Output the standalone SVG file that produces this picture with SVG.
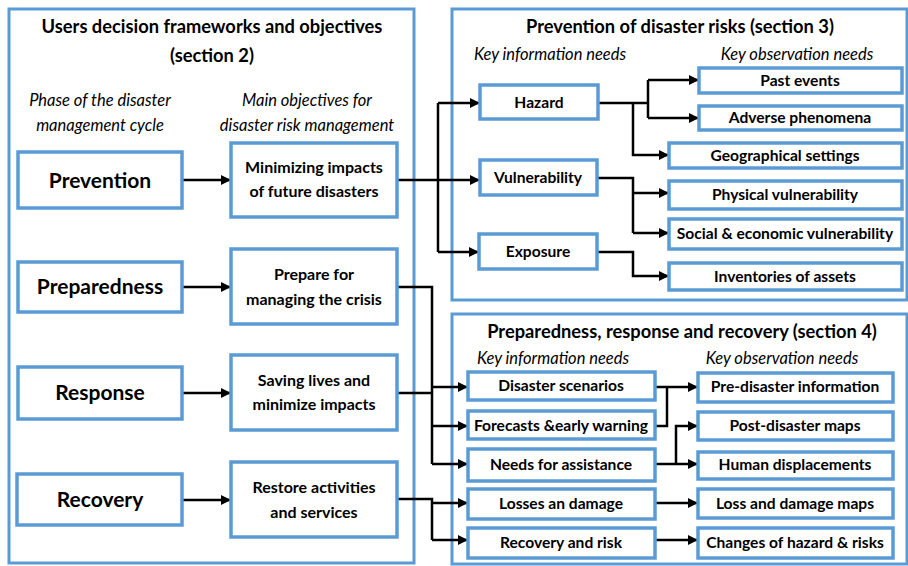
<svg xmlns="http://www.w3.org/2000/svg" width="908" height="566" viewBox="0 0 908 566">
<style>
.frame{fill:none;stroke:#5b9bd5;stroke-width:3}
.box{fill:#fff;stroke:#5b9bd5;stroke-width:3.5}
text{font-family:Lato,"Liberation Sans",sans-serif;fill:#000;text-anchor:middle}
.title{font-size:18.3px;font-weight:bold}
.ital{font-size:16.5px;font-style:italic}
.phase{font-size:21px;font-weight:bold}
.obj{font-size:16px;font-weight:bold}
.item{font-size:15.6px;font-weight:bold}
.con{fill:none;stroke:#000;stroke-width:2.5}
.arr{fill:none;stroke:#000;stroke-width:2.5;marker-end:url(#ah)}
</style>
<defs>
<marker id="ah" viewBox="0 0 10 10" refX="10" refY="5" markerWidth="4" markerHeight="4" markerUnits="strokeWidth" orient="auto">
<path d="M0,0 L10,5 L0,10 z" fill="#000"/>
</marker>
</defs>
<rect width="908" height="566" fill="#fff"/>

<g id="frame-section2">
<rect class="frame" x="9" y="9" width="405" height="554"/>
<text class="title" x="212" y="33">Users decision frameworks and objectives</text>
<text class="title" x="212" y="62">(section 2)</text>
<text class="ital" x="100" y="106">Phase of the disaster</text>
<text class="ital" x="100" y="131">management cycle</text>
<text class="ital" x="307" y="106">Main objectives for</text>
<text class="ital" x="307" y="131">disaster risk management</text>
</g>
<g id="frame-section3">
<rect class="frame" x="452" y="9" width="455" height="291"/>
<text class="title" x="680" y="33">Prevention of disaster risks (section 3)</text>
<text class="ital" x="550" y="60">Key information needs</text>
<text class="ital" x="797" y="60">Key observation needs</text>
</g>
<g id="frame-section4">
<rect class="frame" x="452" y="314" width="455" height="250"/>
<text class="title" x="682" y="338">Preparedness, response and recovery (section 4)</text>
<text class="ital" x="553" y="364">Key information needs</text>
<text class="ital" x="782" y="364">Key observation needs</text>
</g>

<g id="connectors">
<path class="arr" d="M183,180 H231"/>
<path class="arr" d="M183,287 H231"/>
<path class="arr" d="M183,393 H231"/>
<path class="arr" d="M183,500 H231"/>
<path class="arr" d="M397,180 H480"/>
<path class="con" d="M438,103 V252"/>
<path class="arr" d="M438,103 H480"/>
<path class="arr" d="M438,252 H479"/>
<path class="con" d="M598,103 H648"/>
<path class="con" d="M648,80 V118"/>
<path class="arr" d="M648,80 H699"/>
<path class="arr" d="M648,118 H699"/>
<path class="arr" d="M633,103 V155 H669"/>
<path class="con" d="M597,178 H633 V233"/>
<path class="arr" d="M633,193 H669"/>
<path class="arr" d="M633,233 H669"/>
<path class="arr" d="M597,252 H633 V276 H669"/>
<path class="con" d="M397,287 H432 V464"/>
<path class="con" d="M397,393 H432"/>
<path class="arr" d="M432,387 H468"/>
<path class="arr" d="M432,426 H468"/>
<path class="arr" d="M432,464 H468"/>
<path class="con" d="M397,499 H432 V540"/>
<path class="arr" d="M432,503 H468"/>
<path class="arr" d="M432,540 H468"/>
<path class="con" d="M655,426 H667 V387"/>
<path class="arr" d="M655,387 H698"/>
<path class="arr" d="M655,464 H698"/>
<path class="arr" d="M676,464 V426 H698"/>
<path class="arr" d="M655,503 H698"/>
<path class="arr" d="M655,540 H698"/>
</g>

<g id="prevention"><rect class="box" x="18" y="152" width="164" height="56"/><text class="phase" x="100" y="188">Prevention</text></g>
<g id="preparedness"><rect class="box" x="18" y="262" width="164" height="50"/><text class="phase" x="100" y="294">Preparedness</text></g>
<g id="response"><rect class="box" x="18" y="367" width="164" height="52"/><text class="phase" x="100" y="400">Response</text></g>
<g id="recovery"><rect class="box" x="17" y="474" width="165" height="51"/><text class="phase" x="100" y="507">Recovery</text></g>

<g id="minimizing"><rect class="box" x="231" y="143" width="166" height="74"/><text class="obj" x="314" y="173">Minimizing impacts</text><text class="obj" x="314" y="197">of future disasters</text></g>
<g id="prepare"><rect class="box" x="231" y="249" width="166" height="75"/><text class="obj" x="314" y="280">Prepare for</text><text class="obj" x="314" y="305">managing the crisis</text></g>
<g id="saving"><rect class="box" x="231" y="355" width="166" height="75"/><text class="obj" x="314" y="386">Saving lives and</text><text class="obj" x="314" y="410">minimize impacts</text></g>
<g id="restore"><rect class="box" x="231" y="462" width="166" height="75"/><text class="obj" x="314" y="493">Restore activities</text><text class="obj" x="314" y="518">and services</text></g>

<g id="hazard"><rect class="box" x="480" y="85" width="118" height="34"/><text class="item" x="539" y="108">Hazard</text></g>
<g id="vulnerability"><rect class="box" x="480" y="160" width="117" height="35"/><text class="item" x="538" y="183">Vulnerability</text></g>
<g id="exposure"><rect class="box" x="479" y="234" width="118" height="35"/><text class="item" x="538" y="257">Exposure</text></g>

<g id="past-events"><rect class="box" x="699" y="68" width="203" height="25"/><text class="item" x="800" y="86">Past events</text></g>
<g id="adverse"><rect class="box" x="699" y="106" width="203" height="24"/><text class="item" x="800" y="123">Adverse phenomena</text></g>
<g id="geographical"><rect class="box" x="669" y="143" width="233" height="25"/><text class="item" x="785" y="161">Geographical settings</text></g>
<g id="physical"><rect class="box" x="669" y="181" width="233" height="28"/><text class="item" x="785" y="200">Physical vulnerability</text></g>
<g id="social"><rect class="box" x="669" y="219" width="233" height="30"/><text class="item" x="785" y="239">Social &amp; economic vulnerability</text></g>
<g id="inventories"><rect class="box" x="669" y="263" width="233" height="27"/><text class="item" x="785" y="282">Inventories of assets</text></g>

<g id="scenarios"><rect class="box" x="468" y="372" width="187" height="28"/><text class="item" x="561" y="391">Disaster scenarios</text></g>
<g id="forecasts"><rect class="box" x="468" y="411" width="187" height="28"/><text class="item" x="561" y="431">Forecasts &amp;early warning</text></g>
<g id="needs"><rect class="box" x="468" y="449" width="187" height="32"/><text class="item" x="561" y="470">Needs for assistance</text></g>
<g id="losses"><rect class="box" x="468" y="489" width="187" height="30"/><text class="item" x="561" y="509">Losses an damage</text></g>
<g id="recovery-risk"><rect class="box" x="468" y="528" width="187" height="30"/><text class="item" x="561" y="548">Recovery and risk</text></g>

<g id="pre-disaster"><rect class="box" x="698" y="373" width="195" height="29"/><text class="item" x="795" y="392">Pre-disaster information</text></g>
<g id="post-disaster"><rect class="box" x="698" y="412" width="195" height="28"/><text class="item" x="795" y="431">Post-disaster maps</text></g>
<g id="displacements"><rect class="box" x="698" y="452" width="195" height="27"/><text class="item" x="795" y="470">Human displacements</text></g>
<g id="loss-maps"><rect class="box" x="698" y="489" width="195" height="29"/><text class="item" x="795" y="509">Loss and damage maps</text></g>
<g id="changes"><rect class="box" x="698" y="528" width="195" height="30"/><text class="item" x="795" y="548">Changes of hazard &amp; risks</text></g>
</svg>
